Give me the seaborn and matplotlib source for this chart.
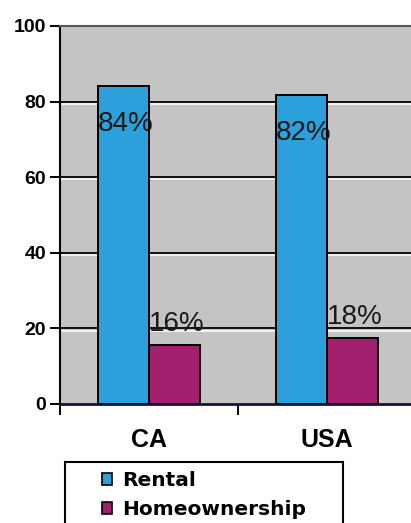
import pandas as pd
import numpy as np
import matplotlib.pyplot as plt
import seaborn as sns
from matplotlib.patches import Patch, Rectangle

# values
regions = ['CA', 'USA']
tenure = ['Rental', 'Homeownership']
rental_pct = [84.1, 81.7]
home_pct = [15.6, 17.5]
rental_lbl = ['84%', '82%']
home_lbl = ['16%', '18%']
colors = ['#2BA0DA', '#A3206F']

df = pd.DataFrame({'Region': regions * 2,
                   'Tenure': [tenure[0]] * 2 + [tenure[1]] * 2,
                   'Pct': rental_pct + home_pct})

sns.set_style('white')
plt.rcParams['font.family'] = ['Liberation Sans', 'DejaVu Sans']
plt.rcParams['text.color'] = 'black'
plt.rcParams['xtick.color'] = 'black'
plt.rcParams['ytick.color'] = 'black'

fig = plt.figure(figsize=(4.11, 5.23), dpi=100)
ax = fig.add_axes([60/411, 1-404/523, 356/411, 378/523])
sns.barplot(data=df, x='Region', y='Pct', hue='Tenure', palette=colors,
            width=0.575, edgecolor='black', linewidth=1.4, saturation=1,
            legend=False, ax=ax, zorder=3)

ax.set_facecolor('#C4C4C4')
ax.set_ylim(0, 100)
ax.set_xlim(-0.5, 1.5)

# black gridlines with a white highlight just below
for v in [20, 40, 60, 80]:
    ax.axhline(v, color='black', lw=1.3, zorder=1)
    ax.axhline(v - 0.6, color='white', lw=1.1, zorder=0.9)

# percentage labels
for bar, lbl in zip(ax.containers[0], rental_lbl):
    ax.text(bar.get_x(), bar.get_height() - 10, lbl, ha='left', va='center',
            fontsize=20, color='#1a1a1a', zorder=5)
for bar, lbl in zip(ax.containers[1], home_lbl):
    ax.text(bar.get_x(), bar.get_height() + 5.5, lbl, ha='left', va='center',
            fontsize=20, color='#1a1a1a', zorder=5)

ax.set_xlabel('')
ax.set_ylabel('')
ax.set_yticks([0, 20, 40, 60, 80, 100])
ax.tick_params(axis='y', direction='out', length=7, width=1.4, pad=3,
               labelsize=14, left=True)
for t in ax.get_yticklabels():
    t.set_fontweight('bold')
ax.set_xticks([-0.5, 0.5, 1.5], minor=True)
ax.tick_params(axis='x', which='minor', direction='out', length=8, width=1.4,
               bottom=True)
ax.tick_params(axis='x', which='major', length=0, pad=17, labelsize=18)
for t in ax.get_xticklabels():
    t.set_fontweight('bold')

ax.spines['top'].set_color('#555555')
ax.spines['top'].set_linewidth(1.5)
ax.spines['left'].set_color('black')
ax.spines['left'].set_linewidth(1.5)
ax.spines['bottom'].set_color('#10104a')
ax.spines['bottom'].set_linewidth(2)
ax.spines['right'].set_visible(False)

# legend box, cut off by the bottom of the scan
fig.add_artist(Rectangle((65/411, -0.05), (343-65)/411, 1 - 462/523 + 0.05,
                         transform=fig.transFigure, fill=False,
                         ec='black', lw=1.5))
handles = [Patch(facecolor=c, edgecolor='black', lw=1.2) for c in colors]
fig.legend(handles, tenure, loc='upper left',
           bbox_to_anchor=(102/411, 1 - 471/523), frameon=False,
           prop={'family': 'DejaVu Sans', 'size': 14.5, 'weight': 'bold'},
           handlelength=0.5, handleheight=0.5, handletextpad=0.5,
           labelspacing=0.5, borderpad=0, borderaxespad=0)

plt.savefig('out.png', dpi=100)
